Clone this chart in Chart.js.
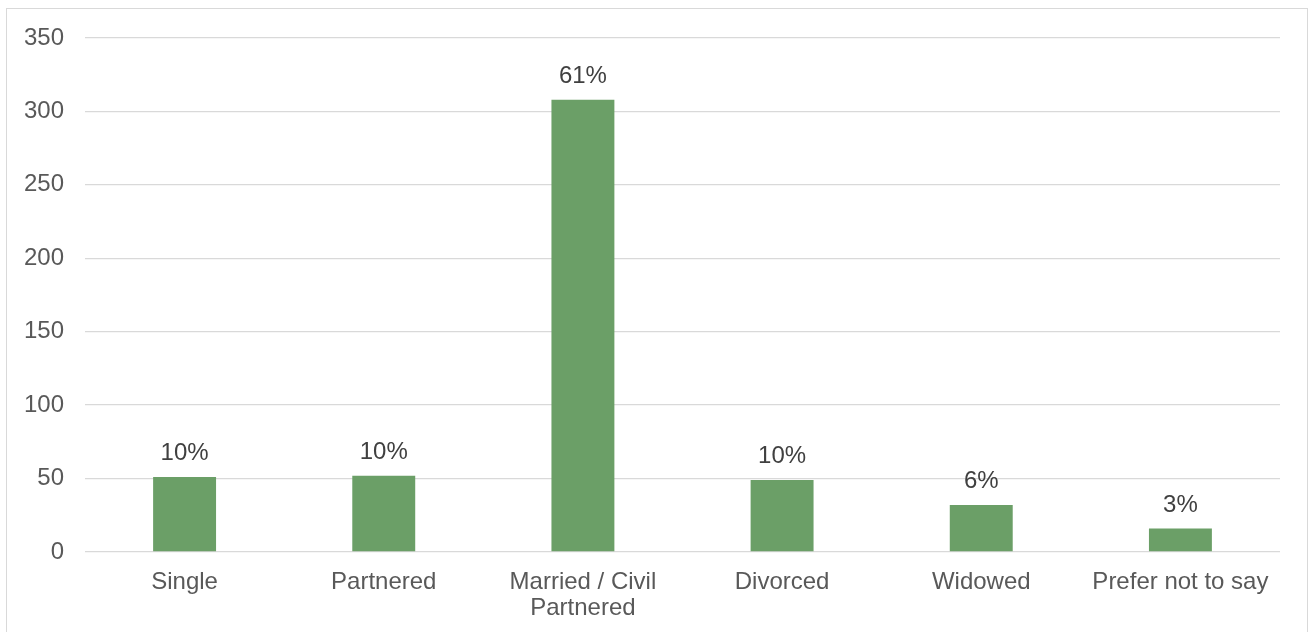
<!DOCTYPE html>
<html>
<head>
<meta charset="utf-8">
<script src="https://cdn.jsdelivr.net/npm/chart.js@4/dist/chart.umd.min.js"></script>
<style>
  html, body { margin: 0; padding: 0; background: #ffffff; }
  #wrap { position: relative; width: 1310px; height: 632px; overflow: hidden; }
  #frame { position: absolute; left: 6px; top: 8px; width: 1302px; height: 700px;
           border: 1.5px solid #d9d9d9; box-sizing: border-box; }
  #c { position: absolute; left: 0; top: 0; }
</style>
</head>
<body>
<div id="wrap">
  <div id="frame"></div>
  <canvas id="c" width="1310" height="632"></canvas>
</div>
<script>
// Marital status of respondents (counts) with share labels
const categories = ['Single', 'Partnered', ['Married / Civil', 'Partnered'], 'Divorced', 'Widowed', 'Prefer not to say'];
const counts = [51, 52, 308, 49, 32, 16];
const shareLabels = ['10%', '10%', '61%', '10%', '6%', '3%'];
const yTicks = [0, 50, 100, 150, 200, 250, 300, 350];

const FONT = '"Liberation Sans", Arial, sans-serif';

const shareLabelPlugin = {
  id: 'shareLabels',
  afterDatasetsDraw(chart) {
    const ctx = chart.ctx;
    const meta = chart.getDatasetMeta(0);
    ctx.save();
    ctx.font = '24px ' + FONT;
    ctx.fillStyle = '#404040';
    ctx.textAlign = 'center';
    ctx.textBaseline = 'alphabetic';
    meta.data.forEach((bar, i) => {
      ctx.fillText(shareLabels[i], bar.x, bar.y - 17);
    });
    ctx.restore();
  }
};

new Chart(document.getElementById('c'), {
  type: 'bar',
  data: {
    labels: categories,
    datasets: [{
      data: counts,
      backgroundColor: '#6b9f67',
      borderWidth: 0,
      categoryPercentage: 1.0,
      barPercentage: 0.316
    }]
  },
  options: {
    responsive: false,
    animation: false,
    layout: { padding: { top: 38, right: 30, left: 0, bottom: 0 } },
    plugins: { legend: { display: false }, tooltip: { enabled: false } },
    scales: {
      x: {
        grid: { display: false },
        border: { display: false },
        ticks: {
          color: '#595959',
          font: { family: FONT, size: 24, lineHeight: 1.1 },
          padding: 9,
          maxRotation: 0,
          autoSkip: false
        },
        afterFit(s) { s.height = 80; }
      },
      y: {
        min: 0,
        max: 350,
        afterBuildTicks(s) { s.ticks = yTicks.map(v => ({ value: v })); },
        grid: { color: '#d9d9d9', lineWidth: 1.3, drawTicks: false },
        border: { display: false },
        ticks: {
          color: '#595959',
          font: { family: FONT, size: 24 },
          padding: 21
        },
        afterFit(s) { s.width = 85; }
      }
    }
  },
  plugins: [shareLabelPlugin]
});
</script>
</body>
</html>
